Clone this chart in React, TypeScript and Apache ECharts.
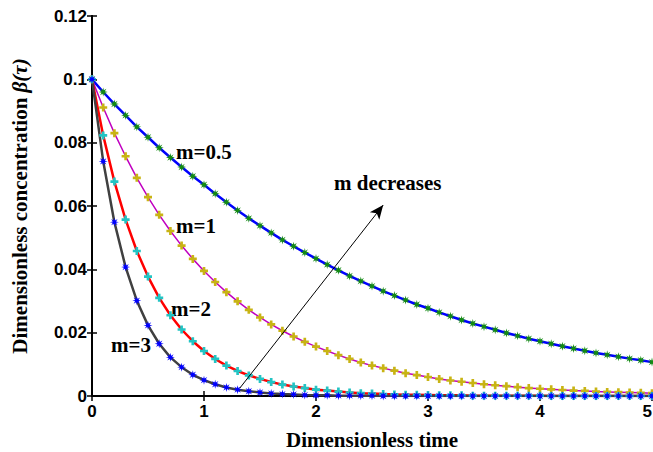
import React, { useEffect, useRef } from "react";
import * as echarts from "echarts";

// Dimensionless time samples
const tau = [
  0, 0.1, 0.2, 0.3, 0.4, 0.5, 0.6, 0.7, 0.8, 0.9, 1.0,
  1.1, 1.2, 1.3, 1.4, 1.5, 1.6, 1.7, 1.8, 1.9, 2.0,
  2.1, 2.2, 2.3, 2.4, 2.5, 2.6, 2.7, 2.8, 2.9, 3.0,
  3.1, 3.2, 3.3, 3.4, 3.5, 3.6, 3.7, 3.8, 3.9, 4.0,
  4.1, 4.2, 4.3, 4.4, 4.5, 4.6, 4.7, 4.8, 4.9, 5.0,
];

// Concentration, one array per m
const betaM05 = [
  0.1, 0.096, 0.0922, 0.0886, 0.085, 0.0817, 0.0784, 0.0753, 0.0723, 0.0694, 0.0667,
  0.0639, 0.0612, 0.0586, 0.0561, 0.0538, 0.0515, 0.0493, 0.0473, 0.0453, 0.0434,
  0.0415, 0.0397, 0.0379, 0.0363, 0.0347, 0.0331, 0.0317, 0.0303, 0.0289, 0.0277,
  0.0264, 0.0252, 0.024, 0.0229, 0.0219, 0.0209, 0.0199, 0.019, 0.0181, 0.0173,
  0.0165, 0.0157, 0.015, 0.0143, 0.0136, 0.013, 0.0124, 0.0118, 0.0113, 0.0107,
];
const betaM1 = [
  0.1, 0.0911, 0.083, 0.0757, 0.0689, 0.0628, 0.0572, 0.0521, 0.0475, 0.0433, 0.0395,
  0.036, 0.0328, 0.0299, 0.0272, 0.0248, 0.0226, 0.0206, 0.0188, 0.0171, 0.0156,
  0.0142, 0.0129, 0.0117, 0.0106, 0.0096, 0.0088, 0.008, 0.0072, 0.0066, 0.006,
  0.0054, 0.0049, 0.0045, 0.0041, 0.0037, 0.0034, 0.0031, 0.0028, 0.0025, 0.0023,
  0.0021, 0.0019, 0.0017, 0.0016, 0.0014, 0.0013, 0.0012, 0.0011, 0.001, 0.0009,
];
const betaM2 = [
  0.1, 0.0823, 0.0677, 0.0557, 0.0458, 0.0377, 0.031, 0.0255, 0.021, 0.0173, 0.0142,
  0.0117, 0.0096, 0.0079, 0.0065, 0.0054, 0.0044, 0.0036, 0.003, 0.0025, 0.002,
  0.0017, 0.0014, 0.0011, 0.0009, 0.0008, 0.0006, 0.0005, 0.0004, 0.0004, 0.0003,
  0.0002, 0.0002, 0.0002, 0.0001, 0.0001, 0.0001, 0.0001, 0.0001, 0.0001, 0.0001,
  0, 0, 0, 0, 0, 0, 0, 0, 0, 0,
];
const betaM3 = [
  0.1, 0.0741, 0.0549, 0.0407, 0.0301, 0.0223, 0.0165, 0.0122, 0.0091, 0.0067, 0.005,
  0.0037, 0.0027, 0.002, 0.0015, 0.0011, 0.0008, 0.0006, 0.0005, 0.0003, 0.0002,
  0.0002, 0.0001, 0.0001, 0.0001, 0.0001, 0, 0, 0, 0, 0,
  0, 0, 0, 0, 0, 0, 0, 0, 0, 0,
  0, 0, 0, 0, 0, 0, 0, 0, 0, 0,
];

const curveNames = ["m=0.5", "m=1", "m=2", "m=3"];
const xTicks = { min: 0, max: 5, interval: 1 };
const yTicks = { min: 0, max: 0.12, interval: 0.02 };
const arrowFrom = [1.32, 0.0025];
const arrowTo = [2.6, 0.0603];

const STAR =
  "path://M6,3 L4.11,3.46 L5.12,5.12 L3.46,4.11 L3,6 L2.54,4.11 L0.88,5.12 L1.89,3.46 L0,3 L1.89,2.54 L0.88,0.88 L2.54,1.89 L3,0 L3.46,1.89 L5.12,0.88 L4.11,2.54 Z";
const PLUS = "path://M2,0H4V2H6V4H4V6H2V4H0V2H2Z";

export default function App() {
  const ref = useRef<HTMLDivElement>(null);

  useEffect(() => {
    const chart = echarts.init(ref.current!, null, { renderer: "svg" });

    const mk = (
      name: string,
      vals: number[],
      lineColor: string,
      markColor: string,
      symbol: string,
      width: number,
      size: number,
      extra: any = {}
    ) => ({
      type: "line",
      name,
      xAxisIndex: 0,
      yAxisIndex: 0,
      data: tau.map((t, i) => [t, vals[i]]),
      showSymbol: true,
      symbol,
      symbolSize: size,
      lineStyle: { color: lineColor, width },
      itemStyle: { color: markColor },
      emphasis: { disabled: true },
      ...extra,
    });

    const tickLabel = {
      fontFamily: "Liberation Sans",
      fontWeight: "bold" as const,
      fontSize: 17,
      color: "#000",
    };
    const serifBold = {
      fontFamily: "Liberation Serif",
      fontWeight: "bold" as const,
      color: "#000",
    };
    const axisCommon = {
      type: "value" as const,
      axisLine: { show: true, lineStyle: { color: "#000", width: 2 } },
      axisTick: { show: true, inside: true, length: 5, lineStyle: { color: "#000", width: 1.5 } },
      splitLine: { show: false },
    };

    const textEl = (text: string, left: number, top: number, size: number) => ({
      type: "text",
      left,
      top,
      style: {
        text,
        fontFamily: "Liberation Serif",
        fontWeight: "bold",
        fontSize: size,
        fill: "#000",
      },
    });

    chart.setOption({
      animation: false,
      backgroundColor: "#fff",
      grid: { left: 92, right: 1, top: 16, bottom: 56, outerBoundsMode: "none", containLabel: false },
      xAxis: [
        {
          ...axisCommon,
          ...xTicks,
          position: "bottom",
          axisLabel: { ...tickLabel, margin: 7, alignMaxLabel: "right" },
          name: "Dimensionless time",
          nameLocation: "middle",
          nameGap: 33,
          nameTextStyle: { ...serifBold, fontSize: 21 },
        },
        {
          ...axisCommon,
          ...xTicks,
          position: "top",
          axisLabel: { show: false },
        },
      ],
      yAxis: [
        {
          ...axisCommon,
          ...yTicks,
          position: "left",
          axisLabel: { ...tickLabel, margin: 5 },
          name: "Dimensionless concentration {i|β(τ)}",
          nameLocation: "middle",
          nameGap: 62,
          nameTextStyle: {
            ...serifBold,
            fontSize: 21,
            rich: {
              i: {
                fontFamily: "Liberation Serif",
                fontStyle: "italic",
                fontSize: 21,
                color: "#000",
              },
            },
          },
        },
        {
          ...axisCommon,
          ...yTicks,
          position: "right",
          axisLabel: { show: false },
        },
      ],
      series: [
        mk(curveNames[0], betaM05, "#0000ff", "#138a13", STAR, 2.5, 9, {
          markLine: {
            silent: true,
            symbol: ["none", "arrow"],
            symbolSize: [9, 14],
            label: { show: false },
            lineStyle: { color: "#000", width: 1, type: "solid" },
            data: [[{ coord: arrowFrom }, { coord: arrowTo }]],
          },
        }),
        mk(curveNames[1], betaM1, "#c000c0", "#c8b414", PLUS, 1.5, 8),
        mk(curveNames[2], betaM2, "#ff0000", "#22c4c4", PLUS, 2.5, 8),
        mk(curveNames[3], betaM3, "#404040", "#0000ff", STAR, 2.5, 9),
      ],
      graphic: [
        textEl(curveNames[0], 176, 141, 21),
        textEl(curveNames[1], 176, 215, 21),
        textEl(curveNames[2], 171, 298, 21),
        textEl(curveNames[3], 111, 334, 21),
        textEl("m decreases", 334, 172, 21),
      ],
    });

    return () => chart.dispose();
  }, []);

  return (
    <div
      ref={ref}
      style={{ position: "fixed", left: 0, top: 0, width: 653, height: 452 }}
    />
  );
}
